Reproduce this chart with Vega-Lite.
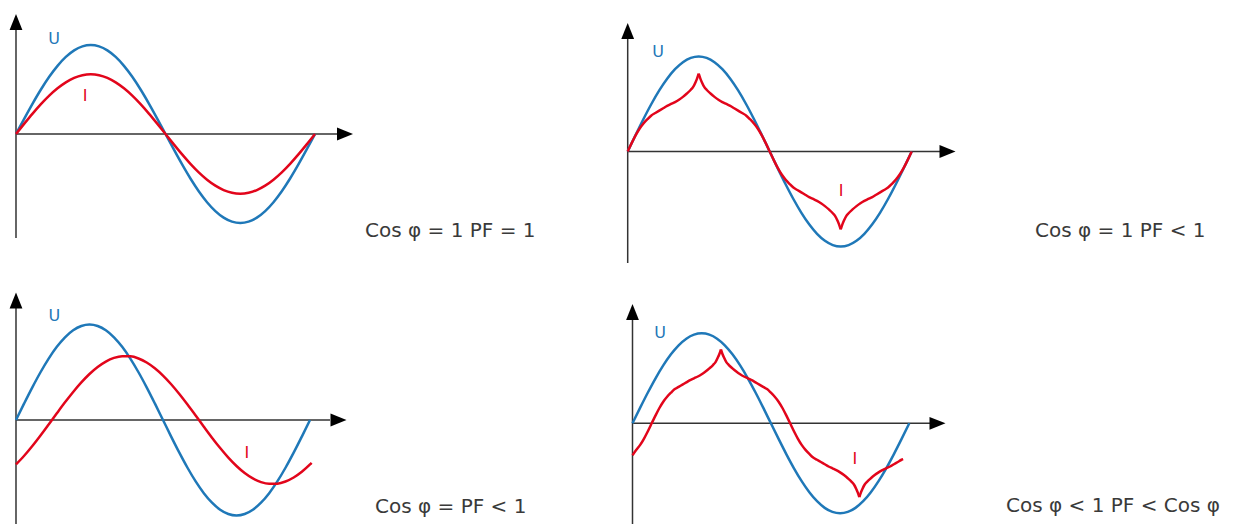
{
  "$schema": "https://vega.github.io/schema/vega-lite/v6.json",
  "padding": 0,
  "spacing": 0,
  "columns": 2,
  "bounds": "flush",
  "background": "white",
  "config": {"view": {"stroke": null}},
  "datasets": {
    "u": [{"t":0,"v":0},{"t":10,"v":0.1736},{"t":20,"v":0.342},{"t":30,"v":0.5},{"t":40,"v":0.6428},{"t":50,"v":0.766},{"t":60,"v":0.866},{"t":70,"v":0.9397},{"t":80,"v":0.9848},{"t":90,"v":1},{"t":100,"v":0.9848},{"t":110,"v":0.9397},{"t":120,"v":0.866},{"t":130,"v":0.766},{"t":140,"v":0.6428},{"t":150,"v":0.5},{"t":160,"v":0.342},{"t":170,"v":0.1736},{"t":180,"v":0},{"t":190,"v":-0.1736},{"t":200,"v":-0.342},{"t":210,"v":-0.5},{"t":220,"v":-0.6428},{"t":230,"v":-0.766},{"t":240,"v":-0.866},{"t":250,"v":-0.9397},{"t":260,"v":-0.9848},{"t":270,"v":-1},{"t":280,"v":-0.9848},{"t":290,"v":-0.9397},{"t":300,"v":-0.866},{"t":310,"v":-0.766},{"t":320,"v":-0.6428},{"t":330,"v":-0.5},{"t":340,"v":-0.342},{"t":350,"v":-0.1736},{"t":360,"v":0}],
    "i_tl": [{"t":0,"v":0},{"t":10,"v":0.1163},{"t":20,"v":0.2291},{"t":30,"v":0.335},{"t":40,"v":0.4307},{"t":50,"v":0.5132},{"t":60,"v":0.5802},{"t":70,"v":0.6296},{"t":80,"v":0.6598},{"t":90,"v":0.67},{"t":100,"v":0.6598},{"t":110,"v":0.6296},{"t":120,"v":0.5802},{"t":130,"v":0.5132},{"t":140,"v":0.4307},{"t":150,"v":0.335},{"t":160,"v":0.2291},{"t":170,"v":0.1163},{"t":180,"v":0},{"t":190,"v":-0.1163},{"t":200,"v":-0.2291},{"t":210,"v":-0.335},{"t":220,"v":-0.4307},{"t":230,"v":-0.5132},{"t":240,"v":-0.5802},{"t":250,"v":-0.6296},{"t":260,"v":-0.6598},{"t":270,"v":-0.67},{"t":280,"v":-0.6598},{"t":290,"v":-0.6296},{"t":300,"v":-0.5802},{"t":310,"v":-0.5132},{"t":320,"v":-0.4307},{"t":330,"v":-0.335},{"t":340,"v":-0.2291},{"t":350,"v":-0.1163},{"t":360,"v":0}],
    "i_bl": [{"t":0,"v":-0.4654},{"t":10,"v":-0.3747},{"t":20,"v":-0.2725},{"t":30,"v":-0.1621},{"t":40,"v":-0.0468},{"t":50,"v":0.07},{"t":60,"v":0.1847},{"t":70,"v":0.2937},{"t":80,"v":0.3938},{"t":90,"v":0.4819},{"t":100,"v":0.5554},{"t":110,"v":0.612},{"t":120,"v":0.6501},{"t":130,"v":0.6684},{"t":140,"v":0.6663},{"t":150,"v":0.6441},{"t":160,"v":0.6022},{"t":170,"v":0.542},{"t":180,"v":0.4654},{"t":190,"v":0.3747},{"t":200,"v":0.2725},{"t":210,"v":0.1621},{"t":220,"v":0.0468},{"t":230,"v":-0.07},{"t":240,"v":-0.1847},{"t":250,"v":-0.2937},{"t":260,"v":-0.3938},{"t":270,"v":-0.4819},{"t":280,"v":-0.5554},{"t":290,"v":-0.612},{"t":300,"v":-0.6501},{"t":310,"v":-0.6684},{"t":320,"v":-0.6663},{"t":330,"v":-0.6441},{"t":340,"v":-0.6022},{"t":350,"v":-0.542},{"t":360,"v":-0.4654},{"t":362,"v":-0.4483}],
    "i_tr": [
      {"seg":"a","t":0,"v":0},{"seg":"a","t":5,"v":0.088},{"seg":"a","t":10,"v":0.17},{"seg":"a","t":15,"v":0.24},{"seg":"a","t":20,"v":0.295},{"seg":"a","t":25,"v":0.34},{"seg":"a","t":30,"v":0.38},{"seg":"a","t":35,"v":0.405},{"seg":"a","t":40,"v":0.43},{"seg":"a","t":45,"v":0.455},{"seg":"a","t":50,"v":0.48},{"seg":"a","t":55,"v":0.5},{"seg":"a","t":60,"v":0.52},{"seg":"a","t":65,"v":0.545},{"seg":"a","t":70,"v":0.575},{"seg":"a","t":75,"v":0.61},{"seg":"a","t":80,"v":0.65},{"seg":"a","t":83,"v":0.68},{"seg":"a","t":86,"v":0.73},{"seg":"a","t":88,"v":0.77},{"seg":"a","t":90,"v":0.82},
      {"seg":"b","t":90,"v":0.82},{"seg":"b","t":92,"v":0.77},{"seg":"b","t":94,"v":0.73},{"seg":"b","t":97,"v":0.68},{"seg":"b","t":100,"v":0.65},{"seg":"b","t":105,"v":0.61},{"seg":"b","t":110,"v":0.575},{"seg":"b","t":115,"v":0.545},{"seg":"b","t":120,"v":0.52},{"seg":"b","t":125,"v":0.5},{"seg":"b","t":130,"v":0.48},{"seg":"b","t":135,"v":0.455},{"seg":"b","t":140,"v":0.43},{"seg":"b","t":145,"v":0.405},{"seg":"b","t":150,"v":0.38},{"seg":"b","t":155,"v":0.34},{"seg":"b","t":160,"v":0.295},{"seg":"b","t":165,"v":0.24},{"seg":"b","t":170,"v":0.17},{"seg":"b","t":175,"v":0.088},{"seg":"b","t":180,"v":0},{"seg":"b","t":185,"v":-0.088},{"seg":"b","t":190,"v":-0.17},{"seg":"b","t":195,"v":-0.24},{"seg":"b","t":200,"v":-0.295},{"seg":"b","t":205,"v":-0.34},{"seg":"b","t":210,"v":-0.38},{"seg":"b","t":215,"v":-0.405},{"seg":"b","t":220,"v":-0.43},{"seg":"b","t":225,"v":-0.455},{"seg":"b","t":230,"v":-0.48},{"seg":"b","t":235,"v":-0.5},{"seg":"b","t":240,"v":-0.52},{"seg":"b","t":245,"v":-0.545},{"seg":"b","t":250,"v":-0.575},{"seg":"b","t":255,"v":-0.61},{"seg":"b","t":260,"v":-0.65},{"seg":"b","t":263,"v":-0.68},{"seg":"b","t":266,"v":-0.73},{"seg":"b","t":268,"v":-0.77},{"seg":"b","t":270,"v":-0.82},
      {"seg":"c","t":270,"v":-0.82},{"seg":"c","t":272,"v":-0.77},{"seg":"c","t":274,"v":-0.73},{"seg":"c","t":277,"v":-0.68},{"seg":"c","t":280,"v":-0.65},{"seg":"c","t":285,"v":-0.61},{"seg":"c","t":290,"v":-0.575},{"seg":"c","t":295,"v":-0.545},{"seg":"c","t":300,"v":-0.52},{"seg":"c","t":305,"v":-0.5},{"seg":"c","t":310,"v":-0.48},{"seg":"c","t":315,"v":-0.455},{"seg":"c","t":320,"v":-0.43},{"seg":"c","t":325,"v":-0.405},{"seg":"c","t":330,"v":-0.38},{"seg":"c","t":335,"v":-0.34},{"seg":"c","t":340,"v":-0.295},{"seg":"c","t":345,"v":-0.24},{"seg":"c","t":350,"v":-0.17},{"seg":"c","t":355,"v":-0.088},{"seg":"c","t":360,"v":0}
    ],
    "i_br": [
      {"seg":"a","t":0,"v":-0.355},{"seg":"a","t":5,"v":-0.295},{"seg":"a","t":10,"v":-0.24},{"seg":"a","t":15,"v":-0.17},{"seg":"a","t":20,"v":-0.088},{"seg":"a","t":25,"v":0},{"seg":"a","t":30,"v":0.088},{"seg":"a","t":35,"v":0.17},{"seg":"a","t":40,"v":0.24},{"seg":"a","t":45,"v":0.295},{"seg":"a","t":50,"v":0.34},{"seg":"a","t":55,"v":0.38},{"seg":"a","t":60,"v":0.405},{"seg":"a","t":65,"v":0.43},{"seg":"a","t":70,"v":0.455},{"seg":"a","t":75,"v":0.48},{"seg":"a","t":80,"v":0.5},{"seg":"a","t":85,"v":0.52},{"seg":"a","t":90,"v":0.545},{"seg":"a","t":95,"v":0.575},{"seg":"a","t":100,"v":0.61},{"seg":"a","t":105,"v":0.65},{"seg":"a","t":108,"v":0.68},{"seg":"a","t":111,"v":0.73},{"seg":"a","t":113,"v":0.77},{"seg":"a","t":115,"v":0.82},
      {"seg":"b","t":115,"v":0.82},{"seg":"b","t":117,"v":0.77},{"seg":"b","t":119,"v":0.73},{"seg":"b","t":122,"v":0.68},{"seg":"b","t":125,"v":0.65},{"seg":"b","t":130,"v":0.61},{"seg":"b","t":135,"v":0.575},{"seg":"b","t":140,"v":0.545},{"seg":"b","t":145,"v":0.52},{"seg":"b","t":150,"v":0.5},{"seg":"b","t":155,"v":0.48},{"seg":"b","t":160,"v":0.455},{"seg":"b","t":165,"v":0.43},{"seg":"b","t":170,"v":0.405},{"seg":"b","t":175,"v":0.38},{"seg":"b","t":180,"v":0.34},{"seg":"b","t":185,"v":0.295},{"seg":"b","t":190,"v":0.24},{"seg":"b","t":195,"v":0.17},{"seg":"b","t":200,"v":0.088},{"seg":"b","t":205,"v":0},{"seg":"b","t":210,"v":-0.088},{"seg":"b","t":215,"v":-0.17},{"seg":"b","t":220,"v":-0.24},{"seg":"b","t":225,"v":-0.295},{"seg":"b","t":230,"v":-0.34},{"seg":"b","t":235,"v":-0.38},{"seg":"b","t":240,"v":-0.405},{"seg":"b","t":245,"v":-0.43},{"seg":"b","t":250,"v":-0.455},{"seg":"b","t":255,"v":-0.48},{"seg":"b","t":260,"v":-0.5},{"seg":"b","t":265,"v":-0.52},{"seg":"b","t":270,"v":-0.545},{"seg":"b","t":275,"v":-0.575},{"seg":"b","t":280,"v":-0.61},{"seg":"b","t":285,"v":-0.65},{"seg":"b","t":288,"v":-0.68},{"seg":"b","t":291,"v":-0.73},{"seg":"b","t":293,"v":-0.77},{"seg":"b","t":295,"v":-0.82},
      {"seg":"c","t":295,"v":-0.82},{"seg":"c","t":297,"v":-0.77},{"seg":"c","t":299,"v":-0.73},{"seg":"c","t":302,"v":-0.68},{"seg":"c","t":305,"v":-0.65},{"seg":"c","t":310,"v":-0.61},{"seg":"c","t":315,"v":-0.575},{"seg":"c","t":320,"v":-0.545},{"seg":"c","t":325,"v":-0.52},{"seg":"c","t":330,"v":-0.5},{"seg":"c","t":335,"v":-0.48},{"seg":"c","t":340,"v":-0.455},{"seg":"c","t":345,"v":-0.43},{"seg":"c","t":350,"v":-0.405},{"seg":"c","t":352,"v":-0.398}
    ],
    "annot": [
      {"p":"TL","kind":"axis","t":0,"v":-1.169,"t2":0,"v2":1.191},
      {"p":"TL","kind":"axis","t":0,"v":0,"t2":387.7,"v2":0},
      {"p":"TL","kind":"yarrow","t":0,"v":1.258},
      {"p":"TL","kind":"xarrow","t":396.1,"v":0},
      {"p":"TL","kind":"labelU","t":45.75,"v":1.073,"text":"U"},
      {"p":"TL","kind":"labelI","t":83.1,"v":0.427,"text":"I"},
      {"p":"TL","kind":"caption","t":420.2,"v":-1.154,"text":"Cos φ = 1 PF = 1"},
      {"p":"TR","kind":"axis","t":0,"v":-1.1737,"t2":0,"v2":1.1947},
      {"p":"TR","kind":"axis","t":0,"v":0,"t2":395.9,"v2":0},
      {"p":"TR","kind":"yarrow","t":0,"v":1.2684},
      {"p":"TR","kind":"xarrow","t":405.4,"v":0},
      {"p":"TR","kind":"labelU","t":38.4,"v":1.05,"text":"U"},
      {"p":"TR","kind":"labelI","t":270.4,"v":-0.421,"text":"I"},
      {"p":"TR","kind":"caption","t":516.3,"v":-0.903,"text":"Cos φ = 1 PF < 1"},
      {"p":"BL","kind":"axis","t":0,"v":-1.089,"t2":0,"v2":1.1728},
      {"p":"BL","kind":"axis","t":0,"v":0,"t2":384.5,"v2":0},
      {"p":"BL","kind":"yarrow","t":0,"v":1.2513},
      {"p":"BL","kind":"xarrow","t":394.9,"v":0},
      {"p":"BL","kind":"labelU","t":47.1,"v":1.094,"text":"U"},
      {"p":"BL","kind":"labelI","t":282.8,"v":-0.3455,"text":"I"},
      {"p":"BL","kind":"caption","t":439.6,"v":-0.977,"text":"Cos φ = PF < 1"},
      {"p":"BR","kind":"axis","t":0,"v":-1.1189,"t2":0,"v2":1.1478},
      {"p":"BR","kind":"axis","t":0,"v":0,"t2":386.9,"v2":0},
      {"p":"BR","kind":"yarrow","t":0,"v":1.2367},
      {"p":"BR","kind":"xarrow","t":396.7,"v":0},
      {"p":"BR","kind":"labelU","t":35.8,"v":1.003,"text":"U"},
      {"p":"BR","kind":"labelI","t":289.3,"v":-0.397,"text":"I"},
      {"p":"BR","kind":"caption","t":485.8,"v":-0.982,"text":"Cos φ < 1 PF < Cos φ"}
    ]
  },
  "concat": [
    {
      "width": 600, "height": 270,
      "encoding": {
        "x": {"field": "t", "type": "quantitative", "scale": {"domain": [-19.26, 703.1], "nice": false, "zero": false}, "axis": null},
        "y": {"field": "v", "type": "quantitative", "scale": {"domain": [-1.528, 1.5056], "nice": false, "zero": false}, "axis": null}
      },
      "layer": [
        {"data": {"name": "annot"}, "transform": [{"filter": "datum.p === 'TL' && datum.kind === 'axis'"}], "mark": {"type": "rule", "color": "#333333", "strokeWidth": 1.5}, "encoding": {"x2": {"field": "t2"}, "y2": {"field": "v2"}}},
        {"data": {"name": "annot"}, "transform": [{"filter": "datum.p === 'TL' && datum.kind === 'yarrow'"}], "mark": {"type": "point", "shape": "M0,-1L0.8,1L-0.8,1Z", "size": 256, "filled": true, "color": "#000000", "opacity": 1, "strokeWidth": 0}},
        {"data": {"name": "annot"}, "transform": [{"filter": "datum.p === 'TL' && datum.kind === 'xarrow'"}], "mark": {"type": "point", "shape": "M1,0L-1,0.8L-1,-0.8Z", "size": 256, "filled": true, "color": "#000000", "opacity": 1, "strokeWidth": 0}},
        {"data": {"name": "u"}, "mark": {"type": "line", "color": "#1f78b8", "strokeWidth": 2.5, "interpolate": "monotone"}},
        {"data": {"name": "i_tl"}, "mark": {"type": "line", "color": "#e2051b", "strokeWidth": 2.5, "interpolate": "monotone"}},
        {"data": {"name": "annot"}, "transform": [{"filter": "datum.p === 'TL' && datum.kind === 'labelU'"}], "mark": {"type": "text", "color": "#1f78b8", "font": "DejaVu Sans", "fontSize": 16, "align": "center", "baseline": "middle"}, "encoding": {"text": {"field": "text"}}},
        {"data": {"name": "annot"}, "transform": [{"filter": "datum.p === 'TL' && datum.kind === 'labelI'"}], "mark": {"type": "text", "color": "#e2051b", "font": "DejaVu Sans", "fontSize": 16, "align": "center", "baseline": "middle"}, "encoding": {"text": {"field": "text"}}},
        {"data": {"name": "annot"}, "transform": [{"filter": "datum.p === 'TL' && datum.kind === 'caption'"}], "mark": {"type": "text", "color": "#3a3a3a", "font": "DejaVu Sans", "fontSize": 20, "align": "left", "baseline": "alphabetic"}, "encoding": {"text": {"field": "text"}}}
      ]
    },
    {
      "width": 635, "height": 270,
      "encoding": {
        "x": {"field": "t", "type": "quantitative", "scale": {"domain": [-35.11, 769.8], "nice": false, "zero": false}, "axis": null},
        "y": {"field": "v", "type": "quantitative", "scale": {"domain": [-1.2474, 1.5947], "nice": false, "zero": false}, "axis": null}
      },
      "layer": [
        {"data": {"name": "annot"}, "transform": [{"filter": "datum.p === 'TR' && datum.kind === 'axis'"}], "mark": {"type": "rule", "color": "#333333", "strokeWidth": 1.5}, "encoding": {"x2": {"field": "t2"}, "y2": {"field": "v2"}}},
        {"data": {"name": "annot"}, "transform": [{"filter": "datum.p === 'TR' && datum.kind === 'yarrow'"}], "mark": {"type": "point", "shape": "M0,-1L0.8,1L-0.8,1Z", "size": 256, "filled": true, "color": "#000000", "opacity": 1, "strokeWidth": 0}},
        {"data": {"name": "annot"}, "transform": [{"filter": "datum.p === 'TR' && datum.kind === 'xarrow'"}], "mark": {"type": "point", "shape": "M1,0L-1,0.8L-1,-0.8Z", "size": 256, "filled": true, "color": "#000000", "opacity": 1, "strokeWidth": 0}},
        {"data": {"name": "u"}, "mark": {"type": "line", "color": "#1f78b8", "strokeWidth": 2.5, "interpolate": "monotone"}},
        {"data": {"name": "i_tr"}, "mark": {"type": "line", "color": "#e2051b", "strokeWidth": 2.5, "interpolate": "monotone"}, "encoding": {"detail": {"field": "seg", "type": "nominal"}}},
        {"data": {"name": "annot"}, "transform": [{"filter": "datum.p === 'TR' && datum.kind === 'labelU'"}], "mark": {"type": "text", "color": "#1f78b8", "font": "DejaVu Sans", "fontSize": 16, "align": "center", "baseline": "middle"}, "encoding": {"text": {"field": "text"}}},
        {"data": {"name": "annot"}, "transform": [{"filter": "datum.p === 'TR' && datum.kind === 'labelI'"}], "mark": {"type": "text", "color": "#e2051b", "font": "DejaVu Sans", "fontSize": 16, "align": "center", "baseline": "middle"}, "encoding": {"text": {"field": "text"}}},
        {"data": {"name": "annot"}, "transform": [{"filter": "datum.p === 'TR' && datum.kind === 'caption'"}], "mark": {"type": "text", "color": "#3a3a3a", "font": "DejaVu Sans", "fontSize": 20, "align": "left", "baseline": "alphabetic"}, "encoding": {"text": {"field": "text"}}}
      ]
    },
    {
      "width": 600, "height": 254,
      "encoding": {
        "x": {"field": "t", "type": "quantitative", "scale": {"domain": [-19.59, 715.1], "nice": false, "zero": false}, "axis": null},
        "y": {"field": "v", "type": "quantitative", "scale": {"domain": [-1.089, 1.5707], "nice": false, "zero": false}, "axis": null}
      },
      "layer": [
        {"data": {"name": "annot"}, "transform": [{"filter": "datum.p === 'BL' && datum.kind === 'axis'"}], "mark": {"type": "rule", "color": "#333333", "strokeWidth": 1.5}, "encoding": {"x2": {"field": "t2"}, "y2": {"field": "v2"}}},
        {"data": {"name": "annot"}, "transform": [{"filter": "datum.p === 'BL' && datum.kind === 'yarrow'"}], "mark": {"type": "point", "shape": "M0,-1L0.8,1L-0.8,1Z", "size": 256, "filled": true, "color": "#000000", "opacity": 1, "strokeWidth": 0}},
        {"data": {"name": "annot"}, "transform": [{"filter": "datum.p === 'BL' && datum.kind === 'xarrow'"}], "mark": {"type": "point", "shape": "M1,0L-1,0.8L-1,-0.8Z", "size": 256, "filled": true, "color": "#000000", "opacity": 1, "strokeWidth": 0}},
        {"data": {"name": "u"}, "mark": {"type": "line", "color": "#1f78b8", "strokeWidth": 2.5, "interpolate": "monotone"}},
        {"data": {"name": "i_bl"}, "mark": {"type": "line", "color": "#e2051b", "strokeWidth": 2.5, "interpolate": "monotone"}},
        {"data": {"name": "annot"}, "transform": [{"filter": "datum.p === 'BL' && datum.kind === 'labelU'"}], "mark": {"type": "text", "color": "#1f78b8", "font": "DejaVu Sans", "fontSize": 16, "align": "center", "baseline": "middle"}, "encoding": {"text": {"field": "text"}}},
        {"data": {"name": "annot"}, "transform": [{"filter": "datum.p === 'BL' && datum.kind === 'labelI'"}], "mark": {"type": "text", "color": "#e2051b", "font": "DejaVu Sans", "fontSize": 16, "align": "center", "baseline": "middle"}, "encoding": {"text": {"field": "text"}}},
        {"data": {"name": "annot"}, "transform": [{"filter": "datum.p === 'BL' && datum.kind === 'caption'"}], "mark": {"type": "text", "color": "#3a3a3a", "font": "DejaVu Sans", "fontSize": 20, "align": "left", "baseline": "alphabetic"}, "encoding": {"text": {"field": "text"}}}
      ]
    },
    {
      "width": 635, "height": 254,
      "encoding": {
        "x": {"field": "t", "type": "quantitative", "scale": {"domain": [-42.27, 783.6], "nice": false, "zero": false}, "axis": null},
        "y": {"field": "v", "type": "quantitative", "scale": {"domain": [-1.1189, 1.7033], "nice": false, "zero": false}, "axis": null}
      },
      "layer": [
        {"data": {"name": "annot"}, "transform": [{"filter": "datum.p === 'BR' && datum.kind === 'axis'"}], "mark": {"type": "rule", "color": "#333333", "strokeWidth": 1.5}, "encoding": {"x2": {"field": "t2"}, "y2": {"field": "v2"}}},
        {"data": {"name": "annot"}, "transform": [{"filter": "datum.p === 'BR' && datum.kind === 'yarrow'"}], "mark": {"type": "point", "shape": "M0,-1L0.8,1L-0.8,1Z", "size": 256, "filled": true, "color": "#000000", "opacity": 1, "strokeWidth": 0}},
        {"data": {"name": "annot"}, "transform": [{"filter": "datum.p === 'BR' && datum.kind === 'xarrow'"}], "mark": {"type": "point", "shape": "M1,0L-1,0.8L-1,-0.8Z", "size": 256, "filled": true, "color": "#000000", "opacity": 1, "strokeWidth": 0}},
        {"data": {"name": "u"}, "mark": {"type": "line", "color": "#1f78b8", "strokeWidth": 2.5, "interpolate": "monotone"}},
        {"data": {"name": "i_br"}, "mark": {"type": "line", "color": "#e2051b", "strokeWidth": 2.5, "interpolate": "monotone"}, "encoding": {"detail": {"field": "seg", "type": "nominal"}}},
        {"data": {"name": "annot"}, "transform": [{"filter": "datum.p === 'BR' && datum.kind === 'labelU'"}], "mark": {"type": "text", "color": "#1f78b8", "font": "DejaVu Sans", "fontSize": 16, "align": "center", "baseline": "middle"}, "encoding": {"text": {"field": "text"}}},
        {"data": {"name": "annot"}, "transform": [{"filter": "datum.p === 'BR' && datum.kind === 'labelI'"}], "mark": {"type": "text", "color": "#e2051b", "font": "DejaVu Sans", "fontSize": 16, "align": "center", "baseline": "middle"}, "encoding": {"text": {"field": "text"}}},
        {"data": {"name": "annot"}, "transform": [{"filter": "datum.p === 'BR' && datum.kind === 'caption'"}], "mark": {"type": "text", "color": "#3a3a3a", "font": "DejaVu Sans", "fontSize": 20, "align": "left", "baseline": "alphabetic"}, "encoding": {"text": {"field": "text"}}}
      ]
    }
  ]
}
